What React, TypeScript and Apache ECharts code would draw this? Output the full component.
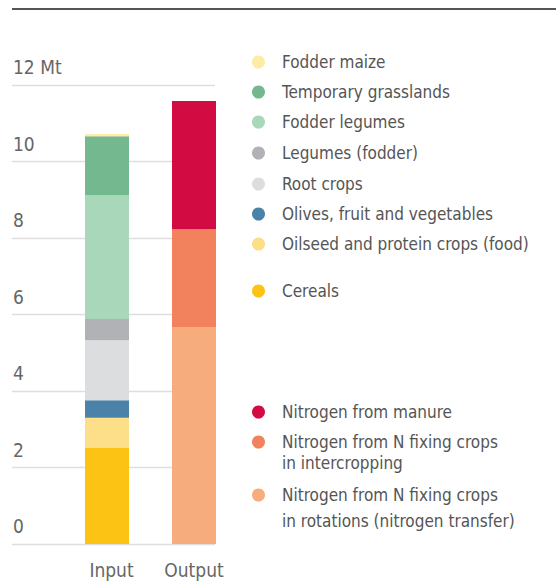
import React, { useEffect, useRef } from "react";
import * as echarts from "echarts";

const categories = ["Input", "Output"];

const inputNames = [
  "Cereals",
  "Oilseed and protein crops (food)",
  "Olives, fruit and vegetables",
  "Root crops",
  "Legumes (fodder)",
  "Fodder legumes",
  "Temporary grasslands",
  "Fodder maize",
];
const inputValues = [2.52, 0.78, 0.46, 1.57, 0.55, 3.24, 1.54, 0.06];
const inputColors = ["#fcc314", "#fddf8a", "#4a82a8", "#dcdddf", "#b1b2b6", "#a8d7b9", "#74b88f", "#feeba5"];

const outputNames = [
  "Nitrogen from N fixing crops\nin rotations (nitrogen transfer)",
  "Nitrogen from N fixing crops\nin intercropping",
  "Nitrogen from manure",
];
const outputValues = [5.67, 2.56, 3.35];
const outputColors = ["#f6ac7c", "#f2825e", "#d20c43"];

const yTicks = [0, 2, 4, 6, 8, 10, 12];
const unitLabel = "Mt";

// legend rows: name, vertical centre of dot
const legendRows: [string, number][] = [
  ["Fodder maize", 62],
  ["Temporary grasslands", 92],
  ["Fodder legumes", 122],
  ["Legumes (fodder)", 153],
  ["Root crops", 184],
  ["Olives, fruit and vegetables", 214],
  ["Oilseed and protein crops (food)", 244],
  ["Cereals", 291],
  ["Nitrogen from manure", 412],
  ["Nitrogen from N fixing crops\nin intercropping", 442],
  ["Nitrogen from N fixing crops\nin rotations (nitrogen transfer)", 495],
];
const legendLineHeights = [20, 20, 20, 20, 20, 20, 20, 20, 20, 21, 26];

const FONT = "'Liberation Sans Narrow', 'DejaVu Sans Condensed', 'Roboto Condensed', 'Arial Narrow', sans-serif";

export default function App() {
  const ref = useRef<HTMLDivElement>(null);
  useEffect(() => {
    document.body.style.margin = "0";
    const chart = echarts.init(ref.current!, null, { renderer: "svg" });
    const series: any[] = [];
    inputNames.forEach((n, i) => {
      series.push({
        name: n,
        type: "bar",
        stack: "total",
        xAxisIndex: 1,
        yAxisIndex: 1,
        barWidth: 44,
        itemStyle: { color: inputColors[i] },
        data: [inputValues[i], "-"],
      });
    });
    outputNames.forEach((n, i) => {
      series.push({
        name: n,
        type: "bar",
        stack: "total",
        xAxisIndex: 1,
        yAxisIndex: 1,
        barWidth: 44,
        itemStyle: { color: outputColors[i] },
        data: ["-", outputValues[i]],
      });
    });

    const legends = legendRows.map(([name, cy], i) => {
      const lh = legendLineHeights[i];
      const multi = name.includes("\n");
      const h = multi ? lh * 3 : lh;
      return {
        left: 252,
        top: cy - h / 2,
        padding: 0,
        itemWidth: 13,
        itemHeight: 13,
        icon: "circle",
        selectedMode: false,
        data: [name],
        formatter: (n: string) => (multi ? " \n" + n : n),
        textStyle: {
          fontFamily: FONT,
          fontSize: 17,
          color: "#555",
          lineHeight: lh,
          padding: [0, 0, 0, 12],
        },
      };
    });

    chart.setOption({
      animation: false,
      grid: [
        { left: 12, top: 85, width: 203, height: 459 },
        { left: 63.5, top: 85, width: 174, height: 459 },
      ],
      xAxis: [
        { type: "value", gridIndex: 0, show: false, min: 0, max: 1 },
        {
          type: "category",
          gridIndex: 1,
          data: categories,
          axisLine: { show: false },
          axisTick: { show: false },
          axisLabel: {
            interval: 0,
            hideOverlap: false,
            fontFamily: FONT,
            fontSize: 19,
            color: "#666",
            margin: 16,
            formatter: (v: string) => (v === categories[0] ? `{i|${v}}` : v),
            rich: { i: { fontFamily: FONT, fontSize: 19, color: "#666", padding: [0, 0, 0, 9] } },
          },
        },
      ],
      yAxis: [
        {
          type: "value",
          gridIndex: 0,
          min: yTicks[0],
          max: yTicks[yTicks.length - 1],
          interval: 2,
          axisLine: { show: false },
          axisTick: { show: false },
          splitLine: { show: true, lineStyle: { color: "#dedede", width: 1.3 } },
          axisLabel: {
            inside: true,
            margin: 1,
            verticalAlign: "bottom",
            padding: [0, 0, 8, 0],
            fontFamily: FONT,
            fontSize: 19,
            lineHeight: 20,
            color: "#666",
            formatter: (v: number) => (v === yTicks[yTicks.length - 1] ? `${v} ${unitLabel}` : String(v)),
          },
        },
        { type: "value", gridIndex: 1, min: 0, max: 12, show: false },
      ],
      legend: legends,
      series,
      graphic: [
        {
          type: "line",
          shape: { x1: 12, y1: 9, x2: 556, y2: 9 },
          style: { stroke: "#555", lineWidth: 2 },
        },
      ],
    });
    return () => chart.dispose();
  }, []);
  return <div ref={ref} style={{ width: 556, height: 581 }} />;
}
